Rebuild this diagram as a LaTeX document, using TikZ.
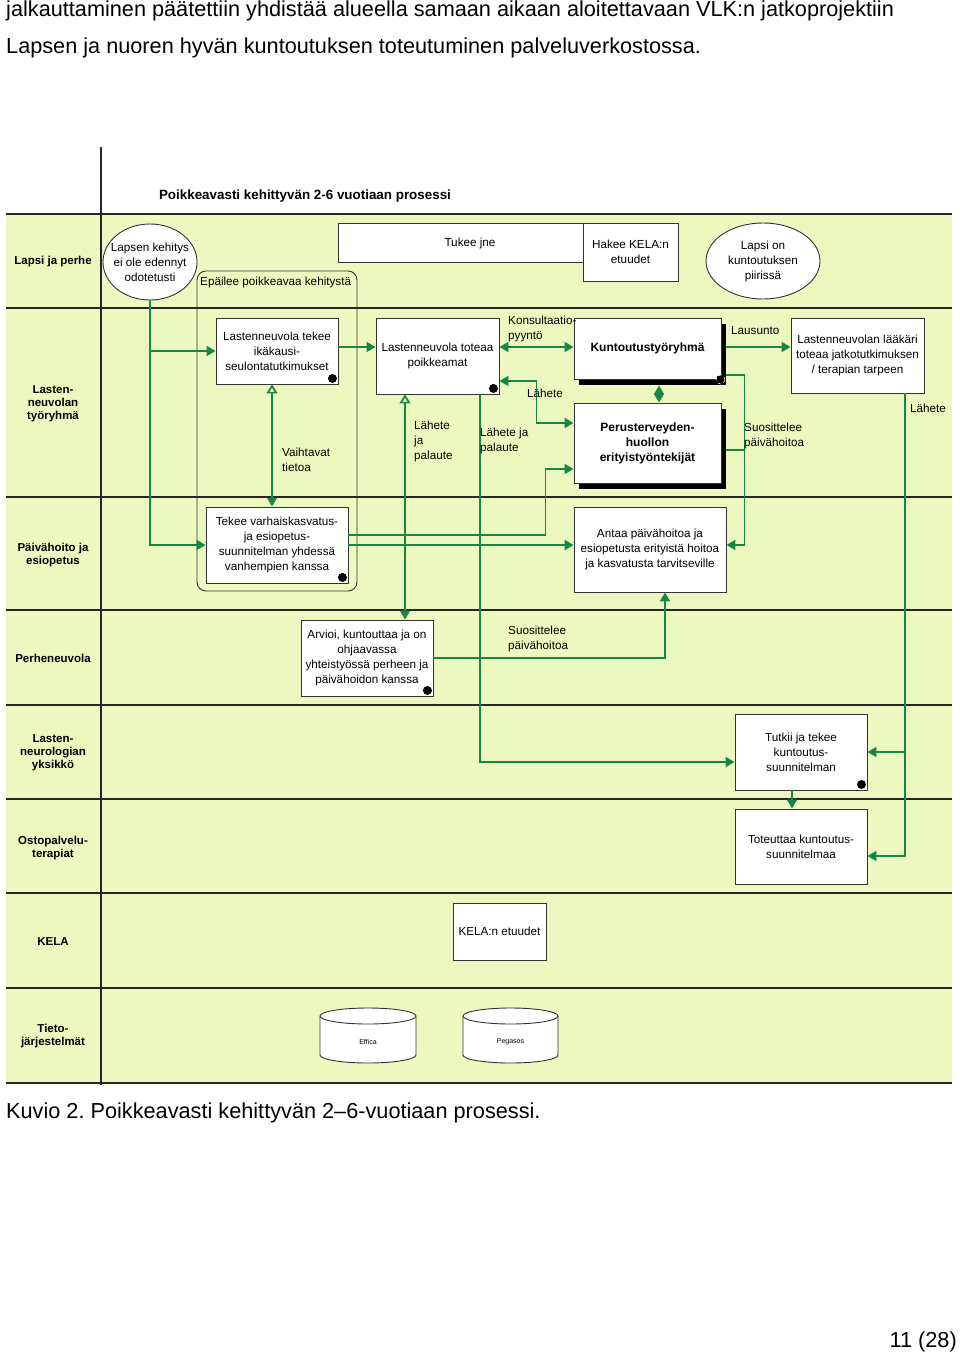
\documentclass[tikz,border=0pt]{standalone}
\usepackage{fontspec}
\setmainfont{Liberation Sans}
\usetikzlibrary{shapes.geometric,arrows.meta,shadows}
\definecolor{lanegreen}{RGB}{237,248,192}
\definecolor{flowgreen}{RGB}{22,135,68}
\newcommand\hdrfont{\fontsize{21.7}{26}\selectfont}
\newcommand\boxfont{\fontsize{11.7}{15}\selectfont}
\newcommand\boxbold{\bfseries\fontsize{12}{15}\selectfont}
\newcommand\lanefont{\bfseries\fontsize{11.5}{13}\selectfont}
\newcommand\titlefont{\bfseries\fontsize{13.4}{15}\selectfont}
\newcommand\cylfont{\fontsize{7}{8}\selectfont}
\frenchspacing
\tikzset{
  laneline/.style={draw=black!85, line width=1.2pt},
  lanelabel/.style={font=\lanefont, align=center, inner sep=0pt},
  box/.style={draw=black!80, fill=white, line width=0.9pt, inner sep=0pt, align=center, font=\boxfont},
  sbox/.style={box, font=\boxbold, general shadow={fill=black, shadow xshift=5pt, shadow yshift=-6pt}},
  oval/.style={ellipse, draw=black!80, fill=white, line width=0.9pt, inner sep=0pt},
  ovaltext/.style={font=\boxfont, align=center, inner sep=0pt},
  container/.style={draw=black!80, line width=0.9pt, rounded corners=9pt, inner sep=0pt},
  lbl/.style={font=\boxfont, align=left, inner sep=0pt},
  enddot/.style={fill=black},
  flow/.style={draw=flowgreen, line width=1.7pt, -{Triangle[length=9pt,width=10pt]}},
  flowplain/.style={draw=flowgreen, line width=1.7pt},
  twoway/.style={draw=flowgreen, line width=1.7pt, {Triangle[length=9pt,width=10pt]}-{Triangle[length=9pt,width=10pt]}},
  twowayopen/.style={draw=flowgreen, line width=1.7pt, {Triangle[open,length=9pt,width=11pt]}-{Triangle[length=9pt,width=10pt]}},
  cyl/.style={draw=black!80, fill=white, line width=0.9pt}
}
\begin{document}
\begin{tikzpicture}[x=1pt,y=-1pt]
\useasboundingbox (0,0) rectangle (960,1354);
\fill[white] (0,0) rectangle (960,1354);

% header text
\node[font=\hdrfont, anchor=base west, inner sep=0pt] (hdr1) at (6,17) {jalkauttaminen päätettiin yhdistää alueella samaan aikaan aloitettavaan VLK:n jatkoprojektiin};
\node[font=\hdrfont, anchor=base west, inner sep=0pt] (hdr2) at (6,53) {Lapsen ja nuoren hyvän kuntoutuksen toteutuminen palveluverkostossa.};

% lanes
\fill[lanegreen] (6,214) rectangle (952,1083);
\foreach \yy in {214,308,497,610,705,799,893,988,1083} {
  \draw[laneline] (6,\yy) -- (952,\yy);
}
\draw[laneline] (101,147) -- (101,1085);

\node[font=\titlefont, inner sep=0pt] (title) at (305,196) {Poikkeavasti kehittyvän 2-6 vuotiaan prosessi};

% lane labels
\node[lanelabel] (l1) at (53,262) {Lapsi ja perhe};
\node[lanelabel] (l2) at (53,404) {Lasten-\\neuvolan\\työryhmä};
\node[lanelabel] (l3) at (53,555) {Päivähoito ja\\esiopetus};
\node[lanelabel] (l4) at (53,658) {Perheneuvola};
\node[lanelabel] (l5) at (53,753) {Lasten-\\neurologian\\yksikkö};
\node[lanelabel] (l6) at (53,848) {Ostopalvelu-\\terapiat};
\node[lanelabel] (l7) at (53,942) {KELA};
\node[lanelabel] (l8) at (53,1036) {Tieto-\\järjestelmät};

% container
\node[container, minimum width=160, minimum height=320] (epa) at (277,431) {};
\node[lbl, anchor=base west] (epalbl) at (200,285) {Epäilee poikkeavaa kehitystä};

% lane 1
\node[oval, minimum width=94, minimum height=76] (lapsen) at (150,262) {};
\node[ovaltext] (lapsentxt) at (lapsen.center) {Lapsen kehitys\\ei ole edennyt\\odotetusti};
\node[box, minimum width=245, minimum height=39] (tukee) at (460.5,242.5) {};
\node[lbl] (tukeetxt) at (470,243) {Tukee jne};
\node[box, minimum width=95, minimum height=58] (hakee) at (630.5,252) {Hakee KELA:n\\etuudet};
\node[oval, minimum width=114, minimum height=76] (lapsion) at (763,261) {};
\node[ovaltext] (lapsiontxt) at (lapsion.center) {Lapsi on\\kuntoutuksen\\piirissä};

% lane 2
\node[box, minimum width=122, minimum height=66] (seul) at (277,351) {Lastenneuvola tekee\\ikäkausi-\\seulontatutkimukset};
\node[box, minimum width=123, minimum height=76] (tot) at (437.5,356) {Lastenneuvola toteaa\\poikkeamat};
\node[sbox, minimum width=147, minimum height=61] (kty) at (647.5,348.5) {Kuntoutustyöryhmä};
\node[sbox, minimum width=147, minimum height=80] (pth) at (647.5,443) {Perusterveyden-\\huollon\\erityistyöntekijät};
\node[box, minimum width=133, minimum height=75] (laak) at (857.5,355.5) {Lastenneuvolan lääkäri\\toteaa jatkotutkimuksen\\/ terapian tarpeen};

% lane 3
\node[box, minimum width=142, minimum height=76] (vasu) at (277,545) {Tekee varhaiskasvatus-\\ja esiopetus-\\suunnitelman yhdessä\\vanhempien kanssa};
\node[box, minimum width=152, minimum height=85] (antaa) at (650,549.5) {Antaa päivähoitoa ja\\esiopetusta erityistä hoitoa\\ja kasvatusta tarvitseville};

% lane 4
\node[box, minimum width=132, minimum height=76] (arv) at (367,658) {Arvioi, kuntouttaa ja on\\ohjaavassa\\yhteistyössä perheen ja\\päivähoidon kanssa};

% lane 5,6
\node[box, minimum width=132, minimum height=76] (tutk) at (801,752) {Tutkii ja tekee\\kuntoutus-\\suunnitelman};
\node[box, minimum width=132, minimum height=75] (totk) at (801,846.5) {Toteuttaa kuntoutus-\\suunnitelmaa};

% lane 7
\node[box, minimum width=93, minimum height=57] (kelaet) at (499.5,931.5) {KELA:n etuudet};

% lane 8 cylinders
\draw[cyl] (320,1016) -- (320,1055) arc[start angle=180, end angle=360, x radius=48pt, y radius=8pt] -- (416,1016) arc[start angle=0, end angle=180, x radius=48pt, y radius=8pt] -- cycle;
\draw[cyl] (416,1016) arc[start angle=0, end angle=-180, x radius=48pt, y radius=8pt];
\node[font=\cylfont, inner sep=0pt] (effica) at (368,1042) {Effica};
\draw[cyl] (463,1016) -- (463,1055) arc[start angle=180, end angle=360, x radius=47.5pt, y radius=8pt] -- (558,1016) arc[start angle=0, end angle=180, x radius=47.5pt, y radius=8pt] -- cycle;
\draw[cyl] (558,1016) arc[start angle=0, end angle=-180, x radius=47.5pt, y radius=8pt];
\node[font=\cylfont, inner sep=0pt] (pegasos) at (510.5,1042) {Pegasos};

% end dots
\fill[enddot] ([shift={(-6,-6)}]seul.south east) circle[radius=4.5pt];
\fill[enddot] ([shift={(-6,-6)}]tot.south east) circle[radius=4.5pt];
\fill[enddot] ([shift={(-6,-6)}]vasu.south east) circle[radius=4.5pt];
\fill[enddot] ([shift={(-6,-6)}]arv.south east) circle[radius=4.5pt];
\fill[enddot] ([shift={(-6,-6)}]tutk.south east) circle[radius=4.5pt];
\filldraw[fill=black, draw=white, dashed, line width=0.6pt] ([shift={(-1,0)}]kty.south east) circle[radius=4.5pt];

% connectors
\draw[flow] (lapsen.south) |- (vasu.west);
\draw[flow] (lapsen.south |- seul.west) -- (seul.west);
\draw[flow] ([yshift=4pt]seul.east) -- ([yshift=4pt]seul.east -| tot.west);
\draw[twowayopen] ([xshift=-5pt]seul.south) -- ([xshift=-5pt]seul.south |- vasu.north);
\draw[twowayopen] ([xshift=-32.5pt]tot.south) -- ([xshift=-32.5pt]tot.south |- arv.north);
\draw[twoway] ([yshift=9pt]tot.east) -- ([yshift=9pt]tot.east -| kty.west);
\draw[twoway] ([yshift=-25pt]tot.east) -| ([xshift=-37pt,yshift=20pt]pth.west) -- ([yshift=20pt]pth.west);
\draw[flow] ([xshift=42.5pt]tot.south) |- ([yshift=-10pt]tutk.west);
\draw[flow] ([yshift=10pt]vasu.east) -| ([xshift=-28pt,yshift=-26pt]pth.west) -- ([yshift=-26pt]pth.west);
\draw[flow] (vasu.east) -- (vasu.east -| antaa.west);
\draw[twoway] ([xshift=11.5pt,yshift=-6pt]kty.south) -- ([xshift=11.5pt]pth.north);
\draw[flow] ([xshift=5pt,yshift=1.5pt]kty.east) -- ([yshift=1.5pt]kty.east -| laak.west);
\draw[flow] ([xshift=5pt,yshift=-26.5pt]kty.east) -- ++(18,0) |- ([yshift=4.5pt]antaa.east);
\draw[flowplain] ([xshift=5pt,yshift=-7pt]pth.east) -- ++(18,0);
\draw[flow] ([xshift=47.5pt]laak.south) |- ([yshift=-9.5pt]totk.east);
\draw[flow] ([xshift=47.5pt]laak.south |- tutk.east) -- (tutk.east);
\draw[flow] (arv.east) -| ([xshift=15pt]antaa.south);
\draw[flow] ([xshift=-9pt]tutk.south) -- ([xshift=-9pt]totk.north);

% connector labels
\node[lbl, anchor=west] (lb1) at (282,460) {Vaihtavat\\tietoa};
\node[lbl, anchor=west] (lb2) at (414,441) {Lähete\\ja\\palaute};
\node[lbl, anchor=west] (lb3) at (508,328.5) {Konsultaatio-\\pyyntö};
\node[lbl, anchor=west] (lb4) at (527,393) {Lähete};
\node[lbl, anchor=west] (lb5) at (480,440.5) {Lähete ja\\palaute};
\node[lbl, anchor=west] (lb6) at (731,331) {Lausunto};
\node[lbl, anchor=west] (lb7) at (744,435.5) {Suosittelee\\päivähoitoa};
\node[lbl, anchor=west] (lb8) at (910,408) {Lähete};
\node[lbl, anchor=west] (lb9) at (508,638.5) {Suosittelee\\päivähoitoa};

% caption and page number
\node[font=\hdrfont, anchor=base west, inner sep=0pt] (caption) at (6,1118) {Kuvio 2. Poikkeavasti kehittyvän 2–6-vuotiaan prosessi.};
\node[font=\hdrfont, anchor=base east, inner sep=0pt] (pageno) at (957,1347) {11 (28)};
\end{tikzpicture}
\end{document}
